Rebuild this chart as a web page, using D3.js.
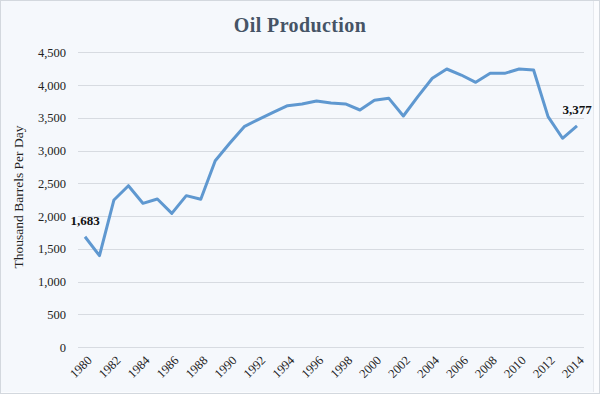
<!DOCTYPE html>
<html>
<head>
<meta charset="utf-8">
<script src="https://cdn.jsdelivr.net/npm/d3@7"></script>
<style>
  html, body { margin: 0; padding: 0; background: #ffffff; }
  svg { display: block; }
</style>
</head>
<body>
<script>
const years = [1980,1981,1982,1983,1984,1985,1986,1987,1988,1989,1990,1991,1992,1993,1994,1995,1996,1997,1998,1999,2000,2001,2002,2003,2004,2005,2006,2007,2008,2009,2010,2011,2012,2013,2014];
const production = [1683,1395,2245,2463,2194,2260,2041,2311,2255,2845,3110,3364,3477,3583,3685,3711,3757,3726,3711,3619,3767,3797,3527,3823,4103,4245,4153,4042,4179,4179,4245,4230,3517,3187,3377];
const yTicks = [0,500,1000,1500,2000,2500,3000,3500,4000,4500];
const xTickYears = [1980,1982,1984,1986,1988,1990,1992,1994,1996,1998,2000,2002,2004,2006,2008,2010,2012,2014];
const labeledYears = [1980, 2014];
const titleText = "Oil Production";
const yTitle = "Thousand Barrels Per Day";

const W = 600, H = 394;
const svg = d3.select("body").append("svg").attr("width", W).attr("height", H);

svg.append("rect").attr("x", 0.5).attr("y", 0.5).attr("width", W - 1).attr("height", H - 1)
  .attr("fill", "#fbfcfe").attr("stroke", "#d3d8de");
svg.append("rect").attr("x", 1).attr("y", 1).attr("width", 592).attr("height", 391)
  .attr("fill", "#f5f8fc");
svg.append("line").attr("x1", 593.5).attr("x2", 593.5).attr("y1", 1).attr("y2", 392)
  .attr("stroke", "#e6e9ee");

const x = d3.scaleLinear().domain([1980, 2014]).range([85, 577]);
const y = d3.scaleLinear().domain([0, 4500]).range([347, 52.3]);

const serif = "'Liberation Serif', 'Times New Roman', serif";

// gridlines
svg.append("g").selectAll("line").data(yTicks).join("line")
  .attr("x1", 78).attr("x2", 584)
  .attr("y1", d => Math.round(y(d)) + 0.5).attr("y2", d => Math.round(y(d)) + 0.5)
  .attr("stroke", "#d7dbe1").attr("stroke-width", 1);

// y axis
const yAxis = d3.axisLeft(y).tickValues(yTicks).tickSize(0).tickPadding(0)
  .tickFormat(d3.format(","));
const gy = svg.append("g").attr("transform", "translate(66,0)").call(yAxis);
gy.select(".domain").remove();
gy.selectAll("text").attr("font-family", serif).attr("font-size", 12.5).attr("fill", "#222");

// x axis
const xAxis = d3.axisBottom(x).tickValues(xTickYears).tickSize(0).tickFormat(d3.format("d"));
const gx = svg.append("g").attr("transform", "translate(0,352)").call(xAxis);
gx.select(".domain").remove();
gx.selectAll("text")
  .attr("font-family", serif).attr("font-size", 12.5).attr("fill", "#222")
  .attr("text-anchor", "end")
  .attr("dy", "0.35em")
  .attr("transform", "translate(4,6) rotate(-45)")
  .attr("y", 0).attr("x", 0);

// line
const data = years.map((yr, i) => ({ year: yr, value: production[i] }));
svg.append("path").datum(data)
  .attr("fill", "none").attr("stroke", "#5f98d0").attr("stroke-width", 3)
  .attr("stroke-linejoin", "round")
  .attr("d", d3.line().x(d => x(d.year)).y(d => y(d.value)));

// data labels
svg.append("g").selectAll("text").data(data.filter(d => labeledYears.includes(d.year))).join("text")
  .attr("x", d => x(d.year)).attr("y", d => y(d.value) - 12)
  .attr("text-anchor", "middle")
  .attr("font-family", serif).attr("font-size", 13).attr("font-weight", "bold").attr("fill", "#111")
  .text(d => d3.format(",")(d.value));

// title
svg.append("text").attr("x", 300).attr("y", 32).attr("text-anchor", "middle")
  .attr("font-family", serif).attr("font-size", 20).attr("font-weight", "bold")
  .attr("letter-spacing", 0.4)
  .attr("fill", "#465466").text(titleText);

// y title
svg.append("text").attr("transform", "translate(23,197) rotate(-90)")
  .attr("text-anchor", "middle")
  .attr("font-family", serif).attr("font-size", 13.5).attr("fill", "#222")
  .text(yTitle);
</script>
</body>
</html>
